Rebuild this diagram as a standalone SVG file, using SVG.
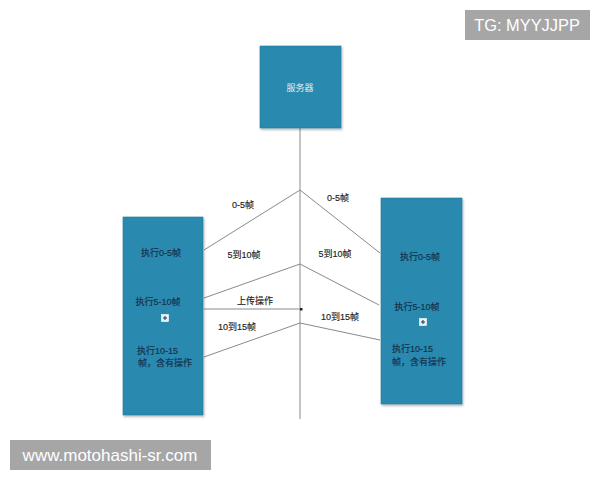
<svg xmlns="http://www.w3.org/2000/svg" width="600" height="480" viewBox="0 0 600 480">
<style>
.box{fill:#2a89ae;stroke:#237a9c;stroke-width:0.6}
.bt{font-family:"Liberation Sans","Noto Sans CJK SC",sans-serif;font-size:9px;fill:#14304b;stroke:#14304b;stroke-width:0.15}
.lbl{font-family:"Liberation Sans","Noto Sans CJK SC",sans-serif;font-size:9px;fill:#222;stroke:#222;stroke-width:0.15}
.ln{stroke:#8a8a8a;stroke-width:1;fill:none}
.wm{fill:#a6a6a6}
.wt{font-family:"Liberation Sans",Arial,sans-serif;fill:#fff}
</style>
<defs>
<filter id="sh" x="-10%" y="-10%" width="130%" height="130%">
<feDropShadow dx="1" dy="1.5" stdDeviation="1.2" flood-color="#000" flood-opacity="0.3"/>
</filter>
<g id="plus">
<rect x="-3.5" y="-3.5" width="7" height="7" fill="#e8f2f6" stroke="#fff" stroke-width="0.6"/>
<path d="M-2,0H2M0,-2V2" stroke="#1a3a55" stroke-width="1"/>
</g>
</defs>
<rect width="600" height="480" fill="#fff"/>

<g id="connectors">
<line class="ln" x1="300" y1="128" x2="300" y2="419"/>
<polyline class="ln" points="204,250 300,190 380,253"/>
<polyline class="ln" points="204,298 300,264 379,305"/>
<line class="ln" x1="204" y1="309" x2="301" y2="309"/>
<rect x="300" y="308" width="2.5" height="2.5" fill="#222"/>
<polyline class="ln" points="204,357 300,323 380,340"/>
<text class="lbl" x="243" y="208" text-anchor="middle">0-5帧</text>
<text class="lbl" x="338" y="201" text-anchor="middle">0-5帧</text>
<text class="lbl" x="244" y="258" text-anchor="middle">5到10帧</text>
<text class="lbl" x="335" y="257" text-anchor="middle">5到10帧</text>
<text class="lbl" x="255" y="304" text-anchor="middle">上传操作</text>
<text class="lbl" x="237" y="330" text-anchor="middle">10到15帧</text>
<text class="lbl" x="340" y="320" text-anchor="middle">10到15帧</text>
</g>

<g id="server">
<rect class="box" x="260" y="46" width="81" height="82" filter="url(#sh)"/>
<text x="300" y="91" text-anchor="middle" font-family="Liberation Sans,Noto Sans CJK SC,sans-serif" font-size="9" fill="#e4eef3">服务器</text>
</g>

<g id="client-left">
<rect class="box" x="123" y="217" width="80" height="198" filter="url(#sh)"/>
<text class="bt" x="161" y="256" text-anchor="middle">执行0-5帧</text>
<text class="bt" x="158" y="305" text-anchor="middle">执行5-10帧</text>
<use href="#plus" x="165" y="318"/>
<text class="bt" x="137" y="354">执行10-15</text>
<text class="bt" x="138" y="366">帧，含有操作</text>
</g>

<g id="client-right">
<rect class="box" x="381" y="198" width="81" height="206" filter="url(#sh)"/>
<text class="bt" x="420" y="260" text-anchor="middle">执行0-5帧</text>
<text class="bt" x="417" y="310" text-anchor="middle">执行5-10帧</text>
<use href="#plus" x="423" y="322"/>
<text class="bt" x="392" y="352">执行10-15</text>
<text class="bt" x="392" y="365">帧，含有操作</text>
</g>

<g id="watermarks">
<rect class="wm" x="465" y="10" width="125" height="30"/>
<text class="wt" x="527" y="31" font-size="16.4" text-anchor="middle">TG: MYYJJPP</text>
<rect class="wm" x="10" y="440" width="201" height="30"/>
<text class="wt" x="110" y="461" font-size="17" text-anchor="middle">www.motohashi-sr.com</text>
</g>
</svg>
